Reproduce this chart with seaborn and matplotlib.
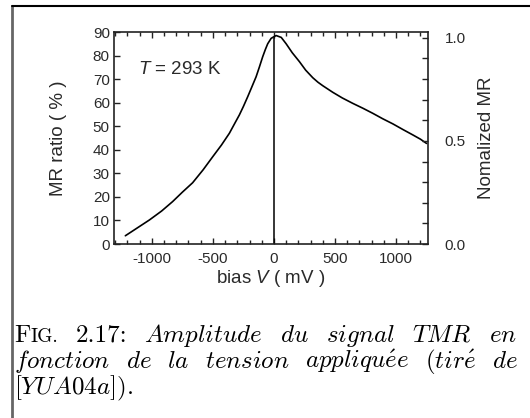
import numpy as np
import pandas as pd
import seaborn as sns
import matplotlib.pyplot as plt
from matplotlib.ticker import MultipleLocator
from matplotlib.lines import Line2D

# MR ratio vs bias voltage (T = 293 K)
bias_mv = [-1217, -1120, -1020, -920, -830, -750, -666, -580, -502, -430, -365,
           -320, -283, -250, -215, -180, -146, -120, -92, -70, -51, -23,
           0, 18, 60, 100, 150, 209, 260, 318, 360, 400, 482, 560, 646, 730,
           809, 890, 974, 1060, 1138, 1200, 1250]
mr_ratio = [3.5, 6.8, 10.2, 14, 18, 22, 26, 31.5, 37, 42, 47,
            51.3, 54.8, 58.4, 62.5, 66.8, 71, 75, 79.5, 82.6, 85, 87.3,
            88, 88.5, 87.7, 85, 81.2, 77.4, 73.8, 70.6, 68.7, 67.2, 64.4, 62, 59.7, 57.6,
            55.5, 53.2, 51, 48.5, 46.3, 44.5, 42.7]

# the vertical trace at zero bias
zero_bias = [2, 2]
zero_trace = [0, 87.5]

# MR value that corresponds to normalized MR = 1
mr_max = 87.5

caption_lines = [
    [[("F", 18), ("IG.", 14)], "2.17:", "$Amplitude$", "$du$", "$signal$", "$TMR$", "$en$"],
    ["$fonction$", "$de$", "$la$", "$tension$", "$appliqu\\acute{e}e$", "$(tir\\acute{e}$", "$de$"],
    ["$[YUA04a])\\mathrm{.}$"],
]

sns.set_theme(style="ticks")
plt.rcParams['font.family'] = ['Liberation Sans', 'DejaVu Sans']
plt.rcParams['mathtext.fontset'] = 'custom'
plt.rcParams['mathtext.rm'] = 'Liberation Sans'
plt.rcParams['mathtext.it'] = 'Liberation Sans:italic'
plt.rcParams['axes.unicode_minus'] = False

W, H = 530, 418
fig = plt.figure(figsize=(W / 100, H / 100), dpi=100)
ax = fig.add_axes([114 / W, 1 - 244 / H, 314 / W, 212 / H])

df = pd.DataFrame({"bias": bias_mv, "mr": mr_ratio})
sns.lineplot(data=df, x="bias", y="mr", ax=ax, color="black", linewidth=1.2, sort=False)
ax.plot(zero_bias, zero_trace, color="black", linewidth=1.1)

txt = "#2a2a2a"
ax.set_xlim(-1310, 1262)
ax.set_ylim(0, 90)
ax.xaxis.set_major_locator(MultipleLocator(500))
ax.xaxis.set_minor_locator(MultipleLocator(100))
ax.yaxis.set_major_locator(MultipleLocator(10))
ax.tick_params(which="both", direction="in", top=True, right=False, colors="#222222",
               labelcolor=txt, labelsize=11)
ax.tick_params(which="major", length=4, width=1)
ax.tick_params(which="minor", length=3, width=1)
ax.tick_params(axis="x", pad=6)
ax.tick_params(axis="y", pad=3)
for s in ax.spines.values():
    s.set_linewidth(1.2)
    s.set_color("#222222")

ax.set_xlabel("bias $V$ ( mV )", fontsize=13.5, color=txt, labelpad=1)
ax.set_ylabel("MR ratio ( % )", fontsize=13.5, color=txt)
ax.yaxis.set_label_coords(-0.15, 0.5)
ax.text(-1110, 74, "$T$ = 293 K", fontsize=13.5, color=txt, va="center", ha="left")

ax2 = ax.twinx()
ax2.set_ylim(0, 90 / mr_max)
ax2.yaxis.set_major_locator(MultipleLocator(0.5))
ax2.yaxis.set_minor_locator(MultipleLocator(0.1))
ax2.yaxis.set_major_formatter(plt.FormatStrFormatter("%.1f"))
ax2.tick_params(which="both", direction="in", colors="#222222", labelcolor=txt,
                labelsize=11, pad=12)
ax2.tick_params(which="major", length=4, width=1)
ax2.tick_params(which="minor", length=4, width=1)
ax2.set_ylabel("Nomalized MR", fontsize=13.5, color=txt, labelpad=9)
for s in ax2.spines.values():
    s.set_visible(False)

# page frame (left rule and top rule of the LaTeX box)
fig.add_artist(Line2D([12 / W, 12 / W], [0, 1 - 6 / H], color="#666666", linewidth=2))
fig.add_artist(Line2D([12 / W, 1], [1 - 6 / H, 1 - 6 / H], color="black", linewidth=1.5))


def place_line(words, y_px, x0, x1, size, justify=True):
    pieces = []
    for w in words:
        segs = w if isinstance(w, list) else [(w, size)]
        ts = []
        for s, fs in segs:
            if s.startswith("$"):
                t = fig.text(x0 / W, 1 - y_px / H, s, fontsize=fs, math_fontfamily="cm",
                             ha="left", va="baseline", color="black")
            else:
                t = fig.text(x0 / W, 1 - y_px / H, s, fontsize=fs, family="cmr10",
                             ha="left", va="baseline", color="black")
            ts.append(t)
        pieces.append(ts)
    fig.canvas.draw()
    r = fig.canvas.get_renderer()
    widths = [[t.get_window_extent(r).width for t in ts] for ts in pieces]
    total = sum(sum(w) for w in widths)
    gap = (x1 - x0 - total) / (len(pieces) - 1) if justify and len(pieces) > 1 else 6
    x = x0
    for ts, ws in zip(pieces, widths):
        for t, w in zip(ts, ws):
            t.set_x(x / W)
            x += w
        x += gap


place_line(caption_lines[0], 342, 14, 517, 18)
place_line(caption_lines[1], 368, 14, 518, 18)
place_line(caption_lines[2], 394, 14, 518, 18, justify=False)

fig.savefig("out.png", dpi=100)
